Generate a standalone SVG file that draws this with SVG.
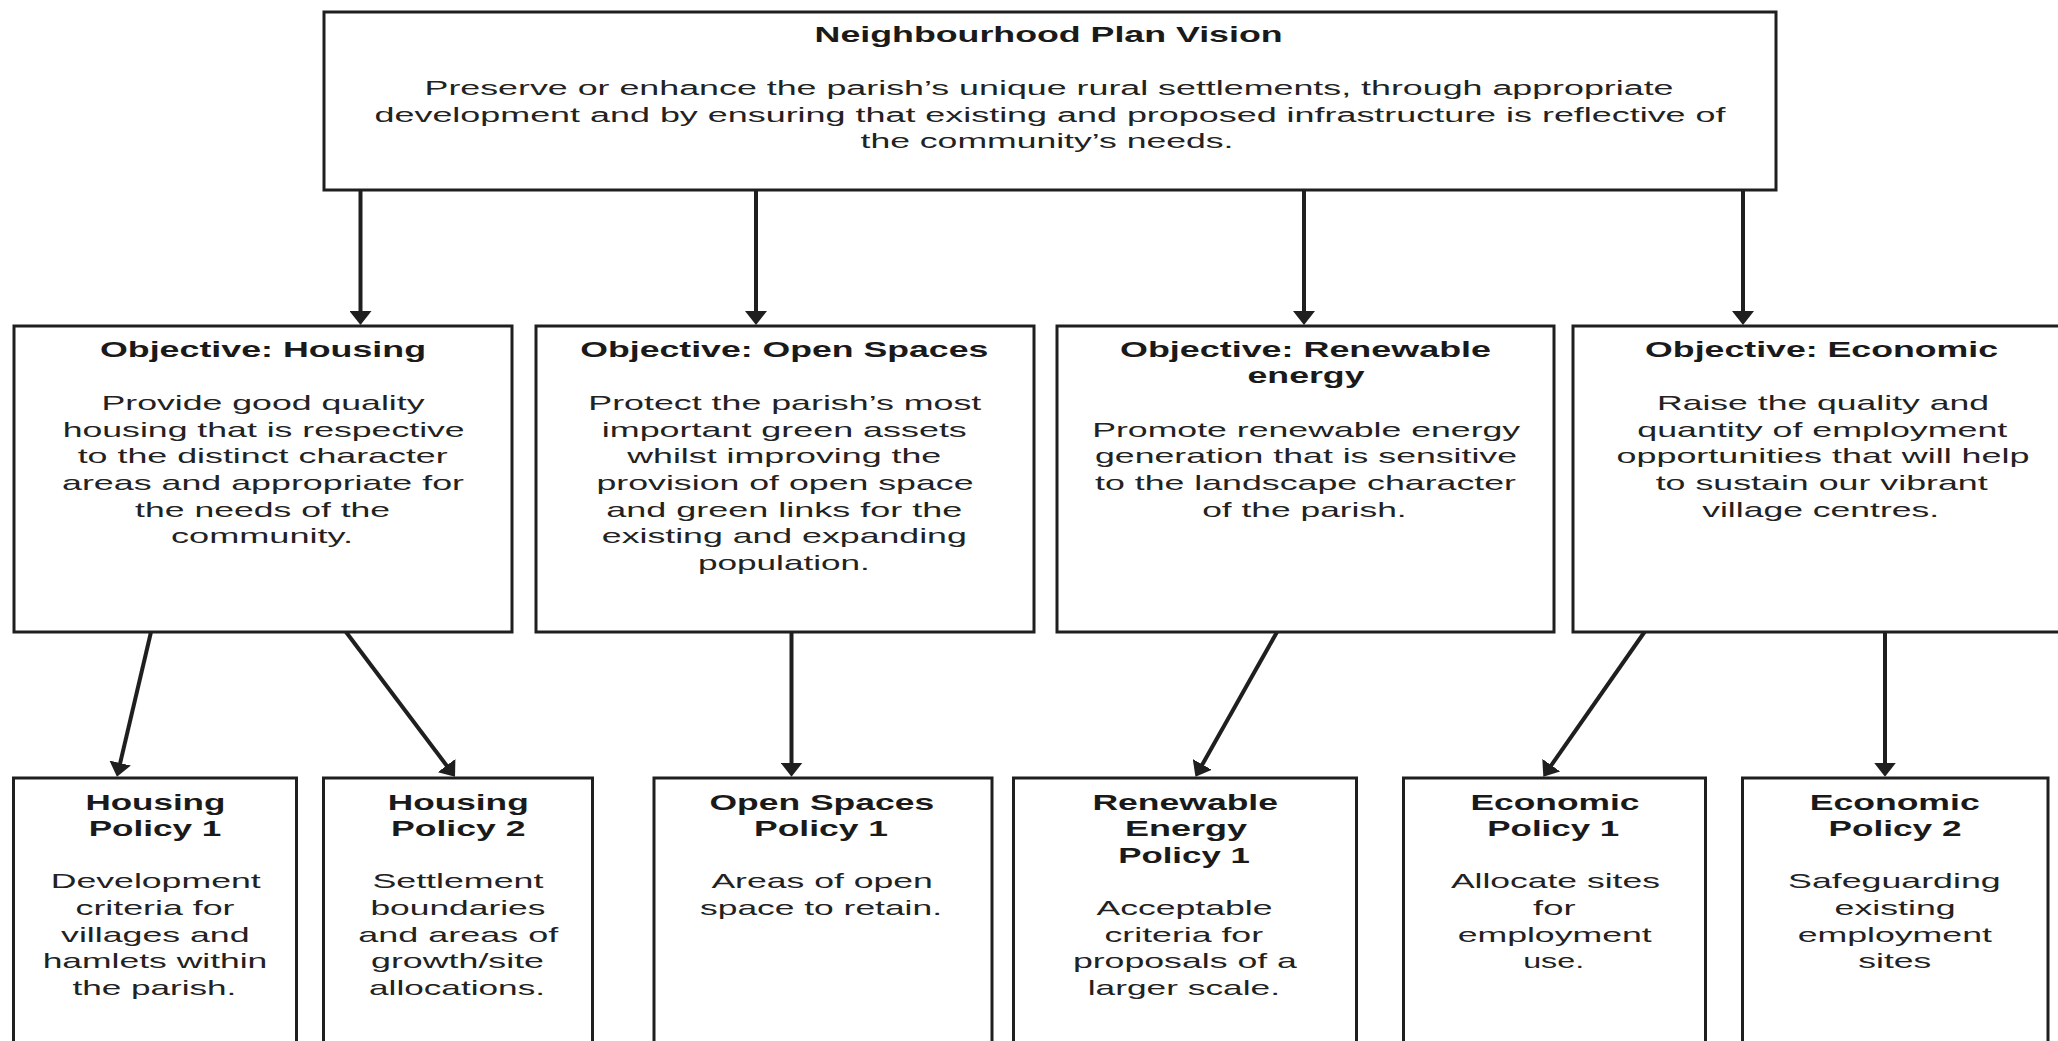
<svg xmlns="http://www.w3.org/2000/svg" width="2058" height="1041" viewBox="0 0 2058 1041">
<style>
.box{fill:#ffffff;stroke:#1f1f1f;stroke-width:3}
.t{font-family:"Liberation Sans",Arial,sans-serif;font-weight:bold;font-size:22px;fill:#1a1a1a;text-anchor:middle}
.b{font-family:"Liberation Sans",Arial,sans-serif;font-size:21px;fill:#222222;text-anchor:middle}
.v{font-size:20px}
.c{fill:none;stroke:#1f1f1f;stroke-width:4}
</style>
<defs>
<marker id="ah" viewBox="0 0 14 22" refX="6" refY="11" markerWidth="14" markerHeight="22" markerUnits="userSpaceOnUse" orient="auto">
<path d="M0,0 L14,11 L0,22 Z" fill="#1f1f1f"/>
</marker>
</defs>
<rect x="0" y="0" width="2058" height="1041" fill="#ffffff"/>

<g id="connectors">
<line class="c" x1="360.5" y1="190" x2="360.5" y2="317" marker-end="url(#ah)"/>
<line class="c" x1="756" y1="190" x2="756" y2="317" marker-end="url(#ah)"/>
<line class="c" x1="1304" y1="190" x2="1304" y2="317" marker-end="url(#ah)"/>
<line class="c" x1="1743" y1="190" x2="1743" y2="317" marker-end="url(#ah)"/>
<line class="c" x1="151" y1="632" x2="118.8" y2="768.9" marker-end="url(#ah)"/>
<line class="c" x1="346" y1="632" x2="450.2" y2="770.3" marker-end="url(#ah)"/>
<line class="c" x1="791.5" y1="632" x2="791.5" y2="768.7" marker-end="url(#ah)"/>
<line class="c" x1="1277" y1="632" x2="1199.4" y2="769.7" marker-end="url(#ah)"/>
<line class="c" x1="1644.5" y1="632" x2="1547.9" y2="770.1" marker-end="url(#ah)"/>
<line class="c" x1="1885" y1="632" x2="1885" y2="768.7" marker-end="url(#ah)"/>
</g>

<g id="vision">
<rect class="box" x="324" y="12" width="1452" height="178"/>
<text class="t" x="1048.6" y="41.7" textLength="468" lengthAdjust="spacingAndGlyphs">Neighbourhood Plan Vision</text>
<text class="b v" x="1049" y="95" textLength="1249" lengthAdjust="spacingAndGlyphs">Preserve or enhance the parish’s unique rural settlements, through appropriate</text>
<text class="b v" x="1050" y="121.7" textLength="1351" lengthAdjust="spacingAndGlyphs">development and by ensuring that existing and proposed infrastructure is reflective of</text>
<text class="b v" x="1047" y="148.3" textLength="373" lengthAdjust="spacingAndGlyphs">the community’s needs.</text>
</g>

<g id="obj-housing">
<rect class="box" x="14" y="326" width="498" height="306"/>
<text class="t" x="263" y="356.7" textLength="326" lengthAdjust="spacingAndGlyphs">Objective: Housing</text>
<text class="b" x="263" y="410" textLength="323" lengthAdjust="spacingAndGlyphs">Provide good quality</text>
<text class="b" x="263.7" y="436.7" textLength="402" lengthAdjust="spacingAndGlyphs">housing that is respective</text>
<text class="b" x="262.7" y="463.3" textLength="370" lengthAdjust="spacingAndGlyphs">to the distinct character</text>
<text class="b" x="263" y="490" textLength="402" lengthAdjust="spacingAndGlyphs">areas and appropriate for</text>
<text class="b" x="262.6" y="516.7" textLength="255" lengthAdjust="spacingAndGlyphs">the needs of the</text>
<text class="b" x="262" y="543.3" textLength="182" lengthAdjust="spacingAndGlyphs">community.</text>
</g>

<g id="obj-open-spaces">
<rect class="box" x="536" y="326" width="498" height="306"/>
<text class="t" x="784.3" y="356.7" textLength="408" lengthAdjust="spacingAndGlyphs">Objective: Open Spaces</text>
<text class="b" x="784.8" y="410" textLength="393" lengthAdjust="spacingAndGlyphs">Protect the parish’s most</text>
<text class="b" x="784.3" y="436.7" textLength="365" lengthAdjust="spacingAndGlyphs">important green assets</text>
<text class="b" x="784.2" y="463.3" textLength="314" lengthAdjust="spacingAndGlyphs">whilst improving the</text>
<text class="b" x="785" y="490" textLength="377" lengthAdjust="spacingAndGlyphs">provision of open space</text>
<text class="b" x="784.2" y="516.7" textLength="356" lengthAdjust="spacingAndGlyphs">and green links for the</text>
<text class="b" x="784.3" y="543.3" textLength="365" lengthAdjust="spacingAndGlyphs">existing and expanding</text>
<text class="b" x="783.9" y="570" textLength="172" lengthAdjust="spacingAndGlyphs">population.</text>
</g>

<g id="obj-renewable">
<rect class="box" x="1057" y="326" width="497" height="306"/>
<text class="t" x="1305.5" y="356.7" textLength="371" lengthAdjust="spacingAndGlyphs">Objective: Renewable</text>
<text class="t" x="1306" y="383.3" textLength="117" lengthAdjust="spacingAndGlyphs">energy</text>
<text class="b" x="1306.2" y="436.7" textLength="428" lengthAdjust="spacingAndGlyphs">Promote renewable energy</text>
<text class="b" x="1306" y="463.3" textLength="422" lengthAdjust="spacingAndGlyphs">generation that is sensitive</text>
<text class="b" x="1305.5" y="490" textLength="421" lengthAdjust="spacingAndGlyphs">to the landscape character</text>
<text class="b" x="1304.4" y="516.7" textLength="204.5" lengthAdjust="spacingAndGlyphs">of the parish.</text>
</g>

<g id="obj-economic">
<rect class="box" x="1573" y="326" width="500" height="306"/>
<text class="t" x="1821.6" y="356.7" textLength="353" lengthAdjust="spacingAndGlyphs">Objective: Economic</text>
<text class="b" x="1823" y="410" textLength="332" lengthAdjust="spacingAndGlyphs">Raise the quality and</text>
<text class="b" x="1822.3" y="436.7" textLength="370" lengthAdjust="spacingAndGlyphs">quantity of employment</text>
<text class="b" x="1823" y="463.3" textLength="413" lengthAdjust="spacingAndGlyphs">opportunities that will help</text>
<text class="b" x="1821.7" y="490" textLength="332" lengthAdjust="spacingAndGlyphs">to sustain our vibrant</text>
<text class="b" x="1820.7" y="516.7" textLength="237" lengthAdjust="spacingAndGlyphs">village centres.</text>
</g>

<g id="housing-policy-1">
<rect class="box" x="13.5" y="778" width="283" height="300"/>
<text class="t" x="155.4" y="809.5" textLength="140" lengthAdjust="spacingAndGlyphs">Housing</text>
<text class="t" x="155" y="836.2" textLength="132.7" lengthAdjust="spacingAndGlyphs">Policy 1</text>
<text class="b" x="155.7" y="888.3" textLength="210" lengthAdjust="spacingAndGlyphs">Development</text>
<text class="b" x="155" y="915" textLength="159" lengthAdjust="spacingAndGlyphs">criteria for</text>
<text class="b" x="155.3" y="941.7" textLength="188.5" lengthAdjust="spacingAndGlyphs">villages and</text>
<text class="b" x="155" y="968.3" textLength="224.7" lengthAdjust="spacingAndGlyphs">hamlets within</text>
<text class="b" x="154.4" y="995" textLength="164" lengthAdjust="spacingAndGlyphs">the parish.</text>
</g>

<g id="housing-policy-2">
<rect class="box" x="323.5" y="778" width="269" height="300"/>
<text class="t" x="458.2" y="809.5" textLength="141" lengthAdjust="spacingAndGlyphs">Housing</text>
<text class="t" x="458.2" y="836.2" textLength="134.6" lengthAdjust="spacingAndGlyphs">Policy 2</text>
<text class="b" x="457.9" y="888.3" textLength="171" lengthAdjust="spacingAndGlyphs">Settlement</text>
<text class="b" x="457.9" y="915" textLength="175" lengthAdjust="spacingAndGlyphs">boundaries</text>
<text class="b" x="458.2" y="941.7" textLength="200" lengthAdjust="spacingAndGlyphs">and areas of</text>
<text class="b" x="457.5" y="968.3" textLength="173" lengthAdjust="spacingAndGlyphs">growth/site</text>
<text class="b" x="457" y="995" textLength="176" lengthAdjust="spacingAndGlyphs">allocations.</text>
</g>

<g id="open-spaces-policy-1">
<rect class="box" x="654" y="778" width="338" height="300"/>
<text class="t" x="821.8" y="809.5" textLength="224.6" lengthAdjust="spacingAndGlyphs">Open Spaces</text>
<text class="t" x="821" y="836.2" textLength="134" lengthAdjust="spacingAndGlyphs">Policy 1</text>
<text class="b" x="822.1" y="888.3" textLength="221.4" lengthAdjust="spacingAndGlyphs">Areas of open</text>
<text class="b" x="821" y="915" textLength="242" lengthAdjust="spacingAndGlyphs">space to retain.</text>
</g>

<g id="renewable-energy-policy-1">
<rect class="box" x="1013.5" y="778" width="343" height="300"/>
<text class="t" x="1185.2" y="809.5" textLength="185.6" lengthAdjust="spacingAndGlyphs">Renewable</text>
<text class="t" x="1186" y="836.2" textLength="122" lengthAdjust="spacingAndGlyphs">Energy</text>
<text class="t" x="1184" y="862.9" textLength="131.6" lengthAdjust="spacingAndGlyphs">Policy 1</text>
<text class="b" x="1184.5" y="915" textLength="176" lengthAdjust="spacingAndGlyphs">Acceptable</text>
<text class="b" x="1183.8" y="941.7" textLength="158.6" lengthAdjust="spacingAndGlyphs">criteria for</text>
<text class="b" x="1184.9" y="968.3" textLength="224" lengthAdjust="spacingAndGlyphs">proposals of a</text>
<text class="b" x="1183.9" y="995" textLength="192.3" lengthAdjust="spacingAndGlyphs">larger scale.</text>
</g>

<g id="economic-policy-1">
<rect class="box" x="1403.5" y="778" width="302" height="300"/>
<text class="t" x="1555" y="809.5" textLength="169" lengthAdjust="spacingAndGlyphs">Economic</text>
<text class="t" x="1553.3" y="836.2" textLength="132" lengthAdjust="spacingAndGlyphs">Policy 1</text>
<text class="b" x="1555.4" y="888.3" textLength="209" lengthAdjust="spacingAndGlyphs">Allocate sites</text>
<text class="b" x="1554.3" y="915" textLength="42.5" lengthAdjust="spacingAndGlyphs">for</text>
<text class="b" x="1554.7" y="941.7" textLength="194" lengthAdjust="spacingAndGlyphs">employment</text>
<text class="b" x="1553.7" y="968.3" textLength="61" lengthAdjust="spacingAndGlyphs">use.</text>
</g>

<g id="economic-policy-2">
<rect class="box" x="1742.5" y="778" width="305.5" height="300"/>
<text class="t" x="1894.7" y="809.5" textLength="170" lengthAdjust="spacingAndGlyphs">Economic</text>
<text class="t" x="1895" y="836.2" textLength="133" lengthAdjust="spacingAndGlyphs">Policy 2</text>
<text class="b" x="1894.4" y="888.3" textLength="212.6" lengthAdjust="spacingAndGlyphs">Safeguarding</text>
<text class="b" x="1895.1" y="915" textLength="121" lengthAdjust="spacingAndGlyphs">existing</text>
<text class="b" x="1894.8" y="941.7" textLength="194.3" lengthAdjust="spacingAndGlyphs">employment</text>
<text class="b" x="1894.8" y="968.3" textLength="73" lengthAdjust="spacingAndGlyphs">sites</text>
</g>
</svg>
